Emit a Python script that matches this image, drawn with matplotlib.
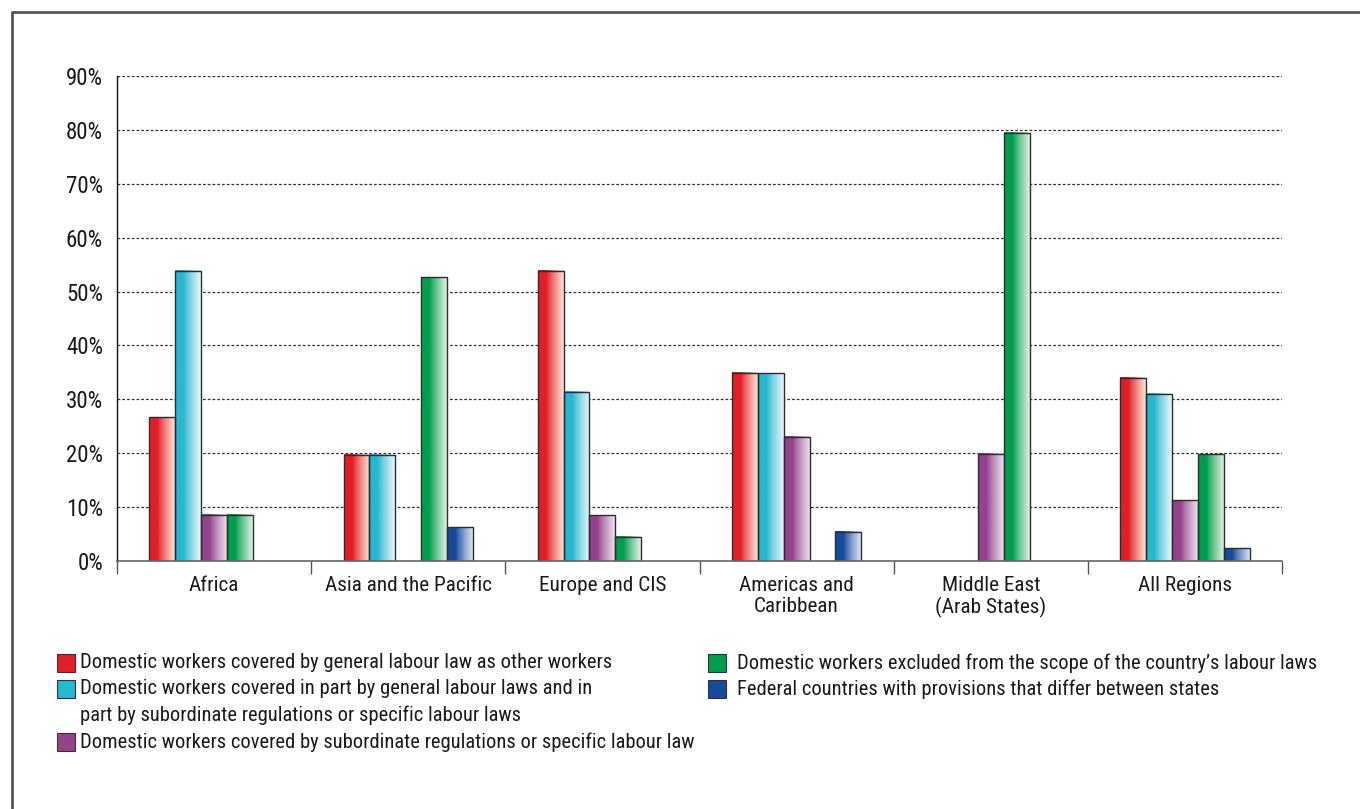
import numpy as np
import matplotlib
matplotlib.use("Agg")
import matplotlib.pyplot as plt
from matplotlib import font_manager
from matplotlib.colors import to_rgb
from matplotlib.patches import Rectangle
from matplotlib.lines import Line2D

# ---- data -------------------------------------------------------------
regions = ["Africa", "Asia and the Pacific", "Europe and CIS",
           "Americas and\nCaribbean", "Middle East\n(Arab States)", "All Regions"]

series_labels = [
    "Domestic workers covered by general labour law as other workers",
    "Domestic workers covered in part by general labour laws and in\n"
    "part by subordinate regulations or specific labour laws",
    "Domestic workers covered by subordinate regulations or specific labour law",
    "Domestic workers excluded from the scope of the country\u2019s labour laws",
    "Federal countries with provisions that differ between states",
]

general_law = [26.7, 19.7, 53.9, 34.9, 0.0, 34.0]
partly_general = [53.9, 19.7, 31.4, 34.8, 0.0, 31.0]
subordinate = [8.6, 0.0, 8.5, 23.1, 19.9, 11.3]
excluded = [8.6, 52.7, 4.5, 0.0, 79.5, 19.8]
federal = [0.0, 6.3, 0.0, 5.4, 0.0, 2.4]

y_ticks = [0, 10, 20, 30, 40, 50, 60, 70, 80, 90]
y_tick_labels = ["0%", "10%", "20%", "30%", "40%", "50%", "60%", "70%", "80%", "90%"]

# ---- style ------------------------------------------------------------
series_values = [general_law, partly_general, subordinate, excluded, federal]
base_colors = ["#E31E26", "#27B7D1", "#93428D", "#009D4F", "#164A9B"]
light_colors = ["#FDE3D6", "#E8F6FA", "#EDDDEE", "#E0F1DF", "#DBE2F4"]

available = {f.name for f in font_manager.fontManager.ttflist}
family = [f for f in ["Roboto Condensed", "Liberation Sans Narrow", "DejaVu Sans"]
          if f in available] or ["DejaVu Sans"]
plt.rcParams["font.family"] = family
plt.rcParams["text.color"] = "#1a1a1a"

W, H = 1360, 809
fig = plt.figure(figsize=(W / 100, H / 100), dpi=100)
fig.patch.set_facecolor("white")


def fx(px):
    return px / W


def fy(py):
    return 1 - py / H


# outer frame (top and left edges only)
fig.add_artist(Line2D([fx(12), fx(12), 1.0], [0.0, fy(12), fy(12)],
                      transform=fig.transFigure, color="#555555", lw=2.0))

ax_left, ax_right, ax_top, ax_bottom = 117, 1282, 76, 561
ax = fig.add_axes([fx(ax_left), fy(ax_bottom),
                   fx(ax_right - ax_left), (ax_bottom - ax_top) / H])

n_groups = len(regions)
n_series = len(series_values)
bar_w = 1 / 7.5
centers = np.arange(n_groups) + 0.5


def gradient_row(base, light, n=64):
    t = np.linspace(0, 1, n)
    f = np.clip((t - 0.33) / 0.67, 0, 1) ** 0.85
    b = np.array(to_rgb(base))
    l = np.array(to_rgb(light))
    return (b[None, :] * (1 - f[:, None]) + l[None, :] * f[:, None])[None, :, :]


for k, vals in enumerate(series_values):
    vals = np.asarray(vals, dtype=float)
    xs = centers + (k - (n_series - 1) / 2) * bar_w
    keep = vals > 0
    bars = ax.bar(xs[keep], vals[keep], bar_w, facecolor="none",
                  edgecolor="#2d2d2d", linewidth=1.0, zorder=3)
    grad = gradient_row(base_colors[k], light_colors[k])
    for rect in bars:
        x0 = rect.get_x()
        ax.imshow(grad, extent=(x0, x0 + rect.get_width(), 0, rect.get_height()),
                  aspect="auto", interpolation="bilinear", zorder=2)

ax.set_xlim(0, n_groups)
ax.set_ylim(0, 90)

# axes styling
ax.set_yticks(y_ticks)
ax.set_yticklabels(y_tick_labels)
ax.yaxis.grid(True, linestyle=(0, (2.2, 1.6)), color="#333333", linewidth=0.9)
ax.set_axisbelow(True)
ax.tick_params(axis="y", length=0, pad=10, labelsize=16.5, labelcolor="#1a1a1a")

ax.set_xticks(centers)
ax.set_xticklabels(regions, linespacing=1.1)
ax.set_xticks(np.arange(n_groups + 1), minor=True)
ax.tick_params(axis="x", which="major", length=0, pad=11, labelsize=15.3,
               labelcolor="#1a1a1a")
ax.tick_params(axis="x", which="minor", length=9, width=1.0, color="#555555",
               direction="out")

for side in ("top", "right"):
    ax.spines[side].set_visible(False)
ax.spines["bottom"].set_color("#666666")
ax.spines["bottom"].set_linewidth(1.2)
ax.spines["left"].set_color("#111111")
ax.spines["left"].set_linewidth(1.0)
ax.spines["bottom"].set_zorder(4)

# legend drawn as two columns of swatches and labels
# (swatch x, text x, row centre y) in pixels
legend_layout = [
    (57, 80, 663), (57, 80, 689), (57, 80, 742),
    (708, 737, 663), (708, 737, 689),
]
sw = 18
line_gap = 26.5
for k, (sx, tx, py) in enumerate(legend_layout):
    fig.add_artist(Rectangle((fx(sx), fy(py + sw / 2)), sw / W, sw / H,
                             transform=fig.transFigure,
                             facecolor=base_colors[k], edgecolor="#333333",
                             linewidth=0.8))
    for j, line in enumerate(series_labels[k].split("\n")):
        fig.text(fx(tx), fy(py + j * line_gap), line,
                 ha="left", va="center", fontsize=14.8)

fig.savefig("out.png", dpi=100, facecolor="white")
